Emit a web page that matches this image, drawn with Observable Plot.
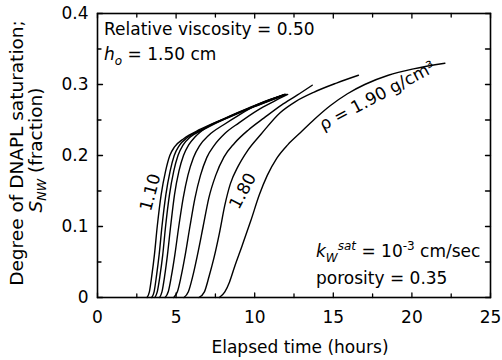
<!DOCTYPE html>
<html><head><meta charset="utf-8">
<script src="https://cdn.jsdelivr.net/npm/d3@7"></script>
<script src="https://cdn.jsdelivr.net/npm/@observablehq/plot@0.6"></script>
<style>
html,body{margin:0;padding:0;background:#fff;}
#chart{width:502px;height:360px;}
</style></head><body><div id="chart"></div>
<script>
// DNAPL density of each curve (g/cm3)
const densities = ["1.10","1.20","1.30","1.40","1.50","1.60","1.70","1.80","1.90"];
// [elapsed time (hours), saturation S_NW]
const curve110 = [[3.15,0],[3.3,0.008],[3.45,0.03],[3.62,0.06],[3.8,0.1],[4.05,0.145],[4.33,0.178],[4.6,0.2],[4.9,0.212],[5.5,0.224],[6.55,0.237],[8.27,0.254],[9.73,0.268],[11.9,0.286]];
const curve120 = [[3.45,0],[3.6,0.008],[3.75,0.03],[3.92,0.06],[4.1,0.1],[4.35,0.145],[4.62,0.178],[4.88,0.2],[5.2,0.214],[5.7,0.225],[6.6,0.236],[8.3,0.254],[9.8,0.268],[11.9,0.286]];
const curve130 = [[3.65,0],[3.8,0.008],[3.97,0.03],[4.15,0.06],[4.33,0.1],[4.58,0.145],[4.85,0.178],[5.12,0.2],[5.45,0.215],[5.9,0.226],[6.7,0.236],[8.35,0.254],[9.85,0.268],[11.95,0.286]];
const curve140 = [[3.95,0],[4.1,0.008],[4.27,0.03],[4.45,0.06],[4.65,0.1],[4.9,0.145],[5.18,0.178],[5.47,0.2],[5.8,0.215],[6.2,0.226],[6.9,0.239],[8.4,0.254],[9.9,0.268],[12.0,0.286]];
const curve150 = [[4.3,0],[4.5,0.008],[4.7,0.03],[4.92,0.06],[5.17,0.1],[5.45,0.14],[5.75,0.172],[6.1,0.197],[6.5,0.214],[7.1,0.229],[8.0,0.243],[9.0,0.257],[10.3,0.273],[12.0,0.286]];
const curve160 = [[4.85,0],[5.08,0.008],[5.32,0.03],[5.58,0.06],[5.88,0.1],[6.2,0.14],[6.55,0.172],[6.95,0.197],[7.45,0.215],[8.1,0.231],[9.0,0.246],[10.2,0.264],[11.2,0.276],[12.1,0.286]];
const curve170 = [[5.5,0],[5.78,0.008],[6.06,0.03],[6.36,0.06],[6.72,0.1],[7.08,0.14],[7.52,0.172],[8.05,0.198],[8.7,0.217],[9.6,0.236],[10.6,0.253],[11.7,0.271],[12.7,0.285],[13.66,0.299]];
const curve180 = [[6.45,0],[6.8,0.008],[7.1,0.03],[7.4,0.055],[7.75,0.09],[8.1,0.13],[8.45,0.16],[8.95,0.185],[9.55,0.207],[10.4,0.23],[11.6,0.26],[12.6,0.276],[13.75,0.289],[15.2,0.302],[16.6,0.313]];
const curve190 = [[7.75,0],[8.1,0.008],[8.4,0.022],[8.7,0.042],[9.2,0.073],[9.75,0.108],[10.3,0.145],[10.8,0.172],[11.4,0.196],[12.1,0.215],[12.9,0.232],[13.8,0.251],[14.8,0.27],[15.9,0.287],[17.0,0.3],[18.5,0.313],[20.1,0.322],[22.1,0.33]];
const curves = [curve110,curve120,curve130,curve140,curve150,curve160,curve170,curve180,curve190];

const xTicks = [0,5,10,15,20,25];
const xTickLabels = ["0","5","10","15","20","25"];
const xMinorTicks = [2.5,7.5,12.5,17.5,22.5];
const yTicks = [0,0.1,0.2,0.3,0.4];
const yTickLabels = ["0","0.1","0.2","0.3","0.4"];
const yMinorTicks = [0.05,0.15,0.25,0.35];
const curveLabels = ["1.10","1.80","\u03c1 = 1.90 g/cm\u00b3"];

const rows = curves.flatMap((c,i)=>c.map(([t,S])=>({rho:densities[i], t, S})));

const FONT = "'DejaVu Sans', sans-serif";
const tickShape = {draw(ctx, l){ ctx.moveTo(0,0); ctx.lineTo(0,-l); }};
const tick = (data, channel, frameAnchor, rotate, length) =>
  Plot.vector(data, {[channel]: d=>d, frameAnchor, anchor:"start", rotate, length, shape: tickShape, stroke:"black", strokeWidth:1.3});

const plot = Plot.plot({
  width: 502, height: 360,
  marginLeft: 97, marginRight: 12, marginTop: 13, marginBottom: 63,
  style: {fontFamily: FONT, fontSize: "17px", color: "black", background: "white"},
  x: {domain: [0,25]},
  y: {domain: [0,0.4]},
  marks: [
    Plot.frame({stroke:"black", strokeWidth:1.6}),
    Plot.axisX(xTicks, {tickSize: 0, tickPadding: 13, tickFormat: d=>xTickLabels[xTicks.indexOf(d)], label: null, fontSize: 17}),
    Plot.axisY(yTicks, {tickSize: 0, tickPadding: 9, tickFormat: d=>yTickLabels[yTicks.indexOf(d)], label: null, fontSize: 17}),
    tick(xTicks, "x", "bottom", 0, 4.5),
    tick(xMinorTicks, "x", "bottom", 0, 3.5),
    tick(xTicks, "x", "top", 180, 4.5),
    tick(xMinorTicks, "x", "top", 180, 3.5),
    tick(yTicks, "y", "left", 90, 5),
    tick(yMinorTicks, "y", "left", 90, 3.5),
    tick(yTicks, "y", "right", -90, 5),
    tick(yMinorTicks, "y", "right", -90, 5),
    Plot.line(rows, {x:"t", y:"S", z:"rho", curve:"monotone-x", stroke:"black", strokeWidth:1.4}),
    Plot.text([curveLabels[0]], {x: ()=>3.37, y: ()=>0.148, text: d=>d, rotate: -75, fontSize: 17, fill:"black"}),
    Plot.text([curveLabels[1]], {x: ()=>9.25, y: ()=>0.150, text: d=>d, rotate: -62, fontSize: 17, fill:"black"}),
    Plot.text([curveLabels[2]], {x: ()=>17.8, y: ()=>0.284, text: d=>d, rotate: -28, fontSize: 17, fill:"black"})
  ]
});
document.getElementById("chart").appendChild(plot);

const svg = d3.select(plot);
function addText(x, y, parts, opts={}) {
  const t = svg.append("text")
    .attr("font-family", FONT).attr("font-size", opts.size || 17).attr("fill", "black")
    .attr("text-anchor", opts.anchor || "start");
  if (opts.transform) t.attr("transform", opts.transform).attr("x", 0).attr("y", 0);
  else t.attr("x", x).attr("y", y);
  for (const p of parts) {
    const s = t.append("tspan").text(p.text);
    if (p.italic) s.attr("font-style", "italic");
    if (p.size) s.attr("font-size", p.size);
    if (p.dy) s.attr("dy", p.dy);
  }
  return t;
}
// inner annotations
addText(104, 35, [{text:"Relative viscosity = 0.50"}]);
addText(104, 60, [{text:"h", italic:true},{text:"o", italic:true, size:12, dy:5},{text:" = 1.50 cm", dy:-5}]);
addText(316, 257, [{text:"k", italic:true},{text:"W", italic:true, size:12, dy:5},{text:"sat", italic:true, size:12, dy:-12},{text:" = 10", dy:7},{text:"-3", size:12, dy:-7},{text:" cm/sec", dy:7}]);
addText(316, 284, [{text:"porosity = 0.35"}]);
// axis titles
addText(0, 0, [{text:"Elapsed time (hours)"}], {anchor:"middle", transform:"translate(300,353)"});
addText(0, 0, [{text:"Degree of DNAPL saturation;"}], {anchor:"middle", size:18.5, transform:"translate(23,153) rotate(-90)"});
addText(0, 0, [{text:"S", italic:true},{text:"NW", italic:true, size:12.5, dy:4},{text:" (fraction)", dy:-4}], {anchor:"middle", size:18.5, transform:"translate(42,150) rotate(-90)"});
</script></body></html>
